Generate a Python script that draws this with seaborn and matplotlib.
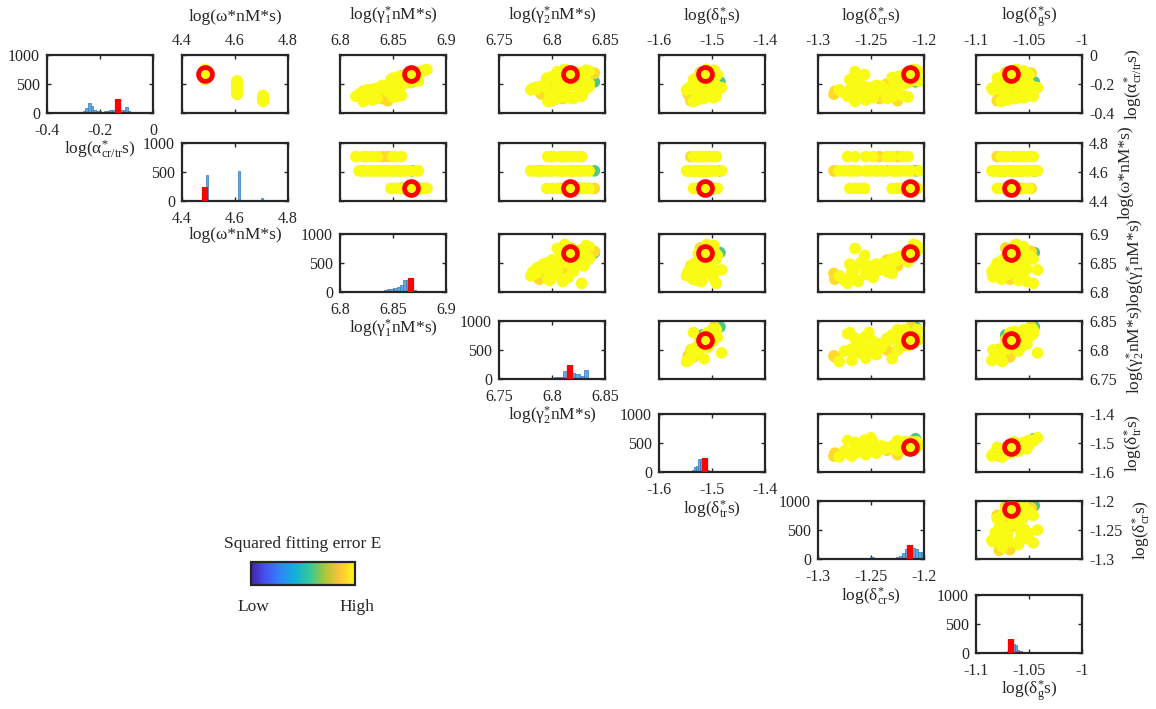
import numpy as np
import pandas as pd
import matplotlib
matplotlib.use("Agg")
import matplotlib.pyplot as plt
from matplotlib.colors import LinearSegmentedColormap, Normalize
from matplotlib.cm import ScalarMappable
import seaborn as sns

sns.set_style("ticks")
plt.rcParams['font.family'] = ['Liberation Serif', 'DejaVu Serif']
plt.rcParams['mathtext.fontset'] = 'custom'
plt.rcParams['mathtext.rm'] = 'Liberation Serif'
plt.rcParams['mathtext.it'] = 'Liberation Serif:italic'
plt.rcParams['mathtext.bf'] = 'Liberation Serif:bold'
plt.rcParams['mathtext.default'] = 'regular'

# ---- parameters ----
param_names = ["alpha", "omega", "gamma1", "gamma2", "dtr", "dcr", "dg"]
param_labels = ["log(α$_{cr/tr}^{*}$s)", "log(ω*nM*s)", "log(γ$_{1}^{*}$nM*s)",
                "log(γ$_{2}^{*}$nM*s)", "log(δ$_{tr}^{*}$s)", "log(δ$_{cr}^{*}$s)",
                "log(δ$_{g}^{*}$s)"]
param_lims = [(-0.4, 0), (4.4, 4.8), (6.8, 6.9), (6.75, 6.85),
              (-1.6, -1.4), (-1.3, -1.2), (-1.1, -1.0)]
param_ticks = [[-0.4, -0.2, 0], [4.4, 4.6, 4.8], [6.8, 6.85, 6.9], [6.75, 6.8, 6.85],
               [-1.6, -1.5, -1.4], [-1.3, -1.25, -1.2], [-1.1, -1.05, -1.0]]
param_ticklabels = [["-0.4", "-0.2", "0"], ["4.4", "4.6", "4.8"], ["6.8", "6.85", "6.9"],
                    ["6.75", "6.8", "6.85"], ["-1.6", "-1.5", "-1.4"],
                    ["-1.3", "-1.25", "-1.2"], ["-1.1", "-1.05", "-1"]]

# best-fit parameter set
best_fit = [-0.131, 4.487, 6.867, 6.817, -1.514, -1.213, -1.067]
best_bar_height = 235

# ---- accepted parameter samples ----
alpha = [-0.131, -0.12, -0.14, -0.11, -0.15, -0.16, -0.125, -0.17, -0.10, -0.135, -0.145, -0.115,
         -0.18, -0.19, -0.20, -0.21, -0.22, -0.23, -0.24, -0.25, -0.26, -0.27, -0.185, -0.195,
         -0.205, -0.215, -0.225, -0.235,
         -0.28, -0.29, -0.30, -0.31, -0.32, -0.285, -0.315, -0.295,
         -0.20, -0.23, -0.25, -0.19, -0.21, -0.26, -0.13, -0.12, -0.155, -0.105,
         -0.30, -0.29, -0.22, -0.24, -0.18, -0.27]
omega = ([4.487] * 12 + [4.608] * 16 + [4.706] * 8
         + [4.608] * 6 + [4.487] * 4 + [4.706] * 2 + [4.608] * 4)
gamma1 = [6.867, 6.872, 6.860, 6.878, 6.855, 6.850, 6.870, 6.848, 6.882, 6.863, 6.858, 6.875,
          6.872, 6.862, 6.855, 6.848, 6.842, 6.835, 6.828, 6.822, 6.820, 6.818, 6.868, 6.858,
          6.852, 6.845, 6.838, 6.832,
          6.858, 6.850, 6.840, 6.830, 6.822, 6.815, 6.845, 6.825,
          6.860, 6.850, 6.845, 6.866, 6.840, 6.835, 6.865, 6.876, 6.857, 6.880,
          6.835, 6.852, 6.857, 6.826, 6.874, 6.832]
gamma2 = [6.817, 6.825, 6.808, 6.835, 6.800, 6.795, 6.840, 6.830, 6.812, 6.822, 6.826, 6.805,
          6.828, 6.815, 6.800, 6.792, 6.786, 6.782, 6.780, 6.788, 6.798, 6.810, 6.840, 6.835,
          6.822, 6.805, 6.795, 6.785,
          6.825, 6.818, 6.810, 6.802, 6.796, 6.828, 6.800, 6.815,
          6.825, 6.812, 6.830, 6.808, 6.820, 6.805, 6.830, 6.818, 6.826, 6.832,
          6.820, 6.808, 6.835, 6.800, 6.818, 6.790]
dtr = [-1.514, -1.505, -1.520, -1.500, -1.525, -1.530, -1.495, -1.535, -1.510, -1.490, -1.518, -1.507,
       -1.505, -1.515, -1.525, -1.535, -1.540, -1.545, -1.548, -1.535, -1.528, -1.520, -1.485, -1.495,
       -1.505, -1.510, -1.482, -1.515,
       -1.505, -1.512, -1.520, -1.528, -1.535, -1.492, -1.540, -1.498,
       -1.512, -1.520, -1.508, -1.526, -1.498, -1.530, -1.502, -1.522, -1.512, -1.496,
       -1.515, -1.525, -1.492, -1.538, -1.508, -1.545]
dcr = [-1.213, -1.208, -1.220, -1.206, -1.225, -1.260, -1.212, -1.270, -1.210, -1.256, -1.216, -1.265,
       -1.212, -1.222, -1.235, -1.245, -1.255, -1.268, -1.280, -1.284, -1.275, -1.262, -1.208, -1.218,
       -1.228, -1.240, -1.250, -1.230,
       -1.220, -1.230, -1.242, -1.255, -1.265, -1.272, -1.225, -1.248,
       -1.225, -1.238, -1.252, -1.215, -1.265, -1.245, -1.218, -1.209, -1.230, -1.207,
       -1.235, -1.215, -1.225, -1.270, -1.205, -1.285]
dg = [-1.067, -1.060, -1.072, -1.055, -1.075, -1.080, -1.048, -1.068, -1.062, -1.050, -1.072, -1.058,
      -1.058, -1.065, -1.072, -1.078, -1.082, -1.085, -1.075, -1.068, -1.060, -1.052, -1.045, -1.050,
      -1.056, -1.062, -1.042, -1.080,
      -1.050, -1.058, -1.064, -1.070, -1.076, -1.046, -1.080, -1.055,
      -1.060, -1.066, -1.058, -1.070, -1.052, -1.074, -1.062, -1.072, -1.056, -1.064,
      -1.062, -1.072, -1.046, -1.084, -1.064, -1.078]
sq_error = [1.0, 1.0, 0.92, 1.0, 1.0, 1.0, 0.92, 1.0, 1.0, 1.0, 0.6, 1.0,
            1.0, 1.0, 0.92, 1.0, 1.0, 1.0, 1.0, 0.92, 1.0, 1.0, 0.6, 1.0,
            1.0, 1.0, 1.0, 1.0,
            1.0, 1.0, 0.92, 1.0, 1.0, 1.0, 0.92, 1.0,
            1.0, 1.0, 1.0, 1.0, 1.0, 1.0, 1.0, 0.92, 1.0, 1.0,
            1.0, 1.0, 1.0, 1.0, 1.0, 0.92]

# ---- marginal histograms (bin start, bin width, counts) ----
hist_start = [-0.325, 4.491, 6.8235, 6.786, -1.558, -1.2775, -1.077]
hist_width = [0.01, 0.008, 0.003, 0.004, 0.004, 0.003, 0.002]
hist_counts = [
    [5, 5, 8, 10, 15, 20, 40, 80, 165, 120, 60, 40, 30, 20, 40, 30, 50, 60, 50, 40, 55, 60, 95, 30],
    [444] + [0] * 14 + [515] + [0] * 10 + [47],
    [5, 5, 8, 10, 12, 20, 30, 45, 60, 75, 90, 120, 200, 210, 110, 30, 10, 5],
    [15, 15, 20, 20, 40, 30, 130, 120, 110, 80, 60, 160, 20],
    [5, 5, 10, 10, 15, 30, 80, 110, 220, 225, 120, 40, 30, 20, 15, 10, 5, 5, 5, 5],
    [5, 10, 20, 25, 20, 15, 15, 10, 20, 30, 10, 10, 5, 5, 10, 10, 15, 30, 60, 100, 180, 150,
     190, 170, 120, 120],
    [5, 10, 20, 40, 100, 130, 150, 140, 60, 30, 25, 15, 10, 10, 5, 10, 15, 10, 5, 5],
]

samples = pd.DataFrame({"alpha": alpha, "omega": omega, "gamma1": gamma1, "gamma2": gamma2,
                        "dtr": dtr, "dcr": dcr, "dg": dg, "err": sq_error})
samples = samples.sort_values("err", kind="stable")

parula = LinearSegmentedColormap.from_list("parula", [
    (0.2422, 0.1504, 0.6603), (0.2810, 0.3228, 0.9579), (0.1786, 0.5289, 0.9682),
    (0.0689, 0.6948, 0.8394), (0.2161, 0.7843, 0.5923), (0.6720, 0.7793, 0.2227),
    (0.9970, 0.7659, 0.2199), (0.9769, 0.9839, 0.0805)])

W, H = 1156, 709
fig = plt.figure(figsize=(W / 100, H / 100), dpi=100)
fig.patch.set_facecolor("white")

col_left = [47, 182, 340, 499, 659, 818, 976]
row_top = [55, 143, 234, 321, 414, 501, 595]
AW, AH = 106, 58
ink = "#262626"
tick_fs = 11.5
label_fs = 12.5


def px_axes(left, top, w, h):
    return fig.add_axes([left / W, 1 - (top + h) / H, w / W, h / H])


def style(ax):
    for sp in ax.spines.values():
        sp.set_visible(True)
        sp.set_linewidth(1.6)
        sp.set_color(ink)
    ax.tick_params(direction="in", length=3, width=1, colors=ink, labelcolor=ink,
                   labelsize=tick_fs, top=True, right=True)
    ax.tick_params(axis="x", pad=7)
    ax.tick_params(axis="y", pad=5)
    ax.set_facecolor("white")


n = len(param_names)
for i in range(n):
    for j in range(i, n):
        ax = px_axes(col_left[j], row_top[i], AW, AH)
        style(ax)
        if i == j:
            counts = np.array(hist_counts[i])
            centers = hist_start[i] + hist_width[i] * (np.arange(len(counts)) + 0.5)
            sns.histplot(x=centers, weights=counts, binwidth=hist_width[i],
                         binrange=(hist_start[i], hist_start[i] + hist_width[i] * len(counts)),
                         color="#62A8DC", edgecolor="#2F7AC0", linewidth=0.5, alpha=1, ax=ax)
            ax.plot([best_fit[i], best_fit[i]], [0, best_bar_height], color="red", lw=4.5,
                    solid_capstyle="butt", zorder=5)
            ax.set_xlim(param_lims[i])
            ax.set_ylim(0, 1000)
            ax.set_xticks(param_ticks[i])
            ax.set_xticklabels(param_ticklabels[i])
            ax.set_yticks([0, 500, 1000])
            ax.set_yticklabels(["0", "500", "1000"])
            ax.set_xlabel(param_labels[i], fontsize=label_fs, color=ink, labelpad=0)
            ax.set_ylabel("")
        else:
            sns.scatterplot(data=samples, x=param_names[j], y=param_names[i], hue="err",
                            palette=parula, hue_norm=(0, 1), s=70, linewidth=0,
                            legend=False, ax=ax, zorder=2)
            ax.plot(best_fit[j], best_fit[i], "o", mfc="none", mec="red", ms=10, mew=3.4,
                    zorder=6)
            ax.set_xlim(param_lims[j])
            ax.set_ylim(param_lims[i])
            ax.set_xticks(param_ticks[j])
            ax.set_yticks(param_ticks[i])
            ax.set_xlabel("")
            ax.set_ylabel("")
            if i == 0:
                ax.xaxis.set_label_position("top")
                ax.tick_params(axis="x", labeltop=True, labelbottom=False, pad=4)
                ax.set_xticklabels(param_ticklabels[j])
                ax.set_xlabel(param_labels[j], fontsize=label_fs, color=ink, labelpad=9)
            else:
                ax.tick_params(labelbottom=False)
            if j == n - 1:
                ax.yaxis.set_label_position("right")
                ax.tick_params(labelright=True, labelleft=False)
                ax.set_yticklabels(param_ticklabels[i])
                ax.set_ylabel(param_labels[i], fontsize=label_fs, color=ink, labelpad=6)
            else:
                ax.tick_params(labelleft=False)

# colour scale for the squared fitting error
cax = px_axes(251, 562, 104, 23)
cb = fig.colorbar(ScalarMappable(norm=Normalize(0, 1), cmap=parula), cax=cax,
                  orientation="horizontal")
cb.outline.set_linewidth(1.6)
cb.outline.set_edgecolor(ink)
cax.xaxis.set_ticks_position("top")
cax.set_xticks([0.23, 0.57, 0.9])
cax.tick_params(direction="in", length=3, width=1, labeltop=False, labelbottom=False,
                colors=ink)
fig.text(303 / W, 1 - 544 / H, "Squared fitting error E", ha="center", va="center",
         fontsize=label_fs, color=ink)
fig.text(253 / W, 1 - 607 / H, "Low", ha="center", va="center", fontsize=label_fs, color=ink)
fig.text(357 / W, 1 - 607 / H, "High", ha="center", va="center", fontsize=label_fs, color=ink)

fig.savefig("out.png", dpi=100, facecolor="white")
